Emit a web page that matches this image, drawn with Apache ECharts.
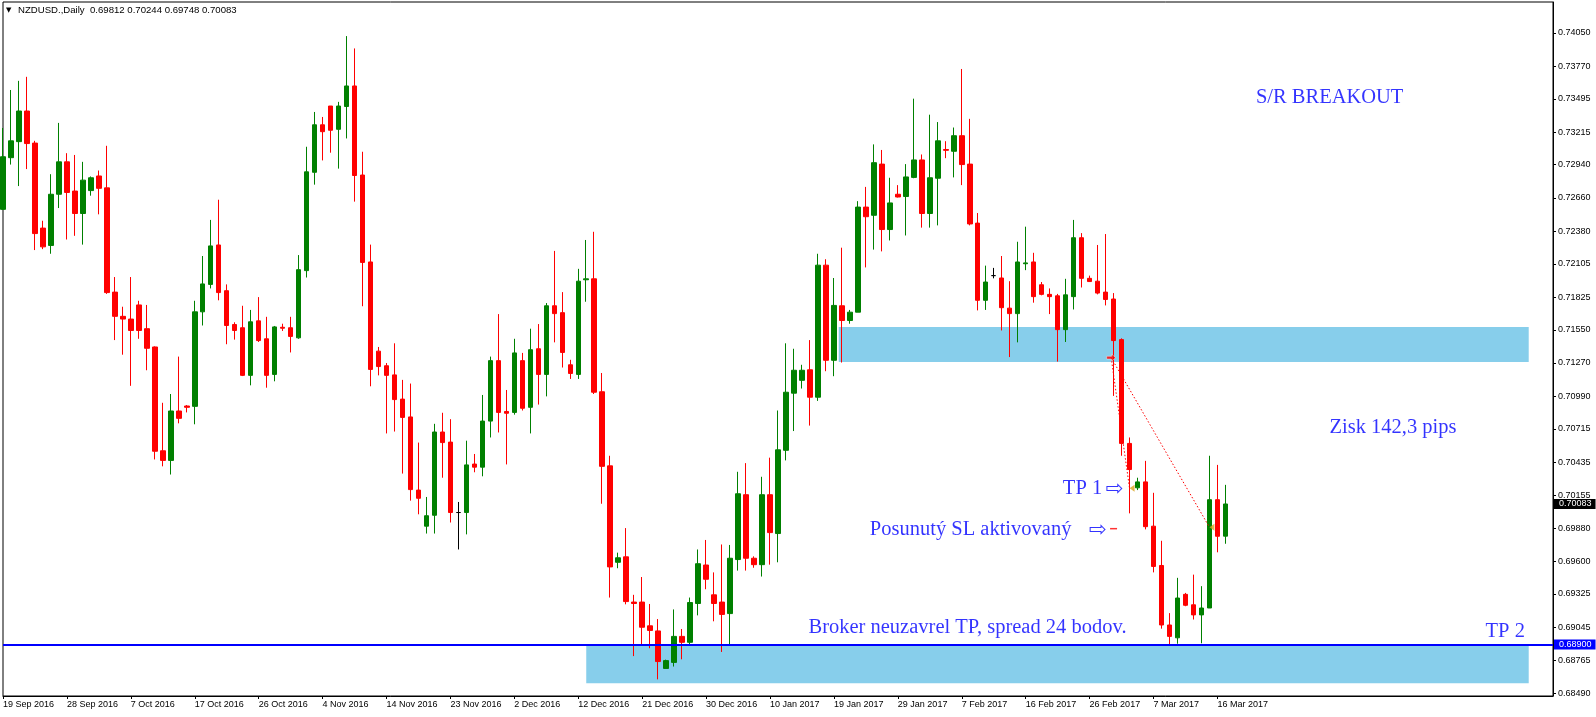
<!DOCTYPE html>
<html><head><meta charset="utf-8">
<script src="https://cdn.jsdelivr.net/npm/echarts@6/dist/echarts.min.js"></script>
<style>html,body{margin:0;padding:0;background:#fff;}#c{width:1596px;height:717px;}</style>
</head><body><div id="c"></div>
<script>
const dates = ['19 Sep 2016','20 Sep 2016','21 Sep 2016','22 Sep 2016','23 Sep 2016',
'25 Sep 2016','26 Sep 2016','27 Sep 2016','28 Sep 2016','29 Sep 2016','30 Sep 2016',
'2 Oct 2016','3 Oct 2016','4 Oct 2016','5 Oct 2016','6 Oct 2016','7 Oct 2016',
'9 Oct 2016','10 Oct 2016','11 Oct 2016','12 Oct 2016','13 Oct 2016','14 Oct 2016',
'16 Oct 2016','17 Oct 2016','18 Oct 2016','19 Oct 2016','20 Oct 2016','21 Oct 2016',
'23 Oct 2016','24 Oct 2016','25 Oct 2016','26 Oct 2016','27 Oct 2016','28 Oct 2016',
'30 Oct 2016','31 Oct 2016','1 Nov 2016','2 Nov 2016','3 Nov 2016','4 Nov 2016',
'6 Nov 2016','7 Nov 2016','8 Nov 2016','9 Nov 2016','10 Nov 2016','11 Nov 2016',
'13 Nov 2016','14 Nov 2016','15 Nov 2016','16 Nov 2016','17 Nov 2016','18 Nov 2016',
'20 Nov 2016','21 Nov 2016','22 Nov 2016','23 Nov 2016','24 Nov 2016','25 Nov 2016',
'27 Nov 2016','28 Nov 2016','29 Nov 2016','30 Nov 2016','1 Dec 2016','2 Dec 2016',
'4 Dec 2016','5 Dec 2016','6 Dec 2016','7 Dec 2016','8 Dec 2016','9 Dec 2016',
'11 Dec 2016','12 Dec 2016','13 Dec 2016','14 Dec 2016','15 Dec 2016','16 Dec 2016',
'18 Dec 2016','19 Dec 2016','20 Dec 2016','21 Dec 2016','22 Dec 2016','23 Dec 2016',
'25 Dec 2016','26 Dec 2016','27 Dec 2016','28 Dec 2016','29 Dec 2016','30 Dec 2016',
'2 Jan 2017','3 Jan 2017','4 Jan 2017','5 Jan 2017','6 Jan 2017',
'8 Jan 2017','9 Jan 2017','10 Jan 2017','11 Jan 2017','12 Jan 2017','13 Jan 2017',
'15 Jan 2017','16 Jan 2017','17 Jan 2017','18 Jan 2017','19 Jan 2017','20 Jan 2017',
'22 Jan 2017','23 Jan 2017','24 Jan 2017','25 Jan 2017','26 Jan 2017','27 Jan 2017',
'29 Jan 2017','30 Jan 2017','31 Jan 2017','1 Feb 2017','2 Feb 2017','3 Feb 2017',
'5 Feb 2017','6 Feb 2017','7 Feb 2017','8 Feb 2017','9 Feb 2017','10 Feb 2017',
'12 Feb 2017','13 Feb 2017','14 Feb 2017','15 Feb 2017','16 Feb 2017','17 Feb 2017',
'19 Feb 2017','20 Feb 2017','21 Feb 2017','22 Feb 2017','23 Feb 2017','24 Feb 2017',
'26 Feb 2017','27 Feb 2017','28 Feb 2017','1 Mar 2017','2 Mar 2017','3 Mar 2017',
'5 Mar 2017','6 Mar 2017','7 Mar 2017','8 Mar 2017','9 Mar 2017','10 Mar 2017',
'12 Mar 2017','13 Mar 2017','14 Mar 2017','15 Mar 2017','16 Mar 2017','17 Mar 2017'];

const opens = [0.72564,0.72999,0.73134,0.73392,0.73122,0.72406,0.72260,0.72691,0.72964,0.72718,
0.72529,0.72722,0.72845,0.72745,0.71867,0.71663,0.71640,0.71759,0.71559,0.71405,
0.70531,0.70450,0.70866,0.70908,0.70905,0.71701,0.71932,0.72264,0.71879,0.71594,
0.71567,0.71166,0.71625,0.71474,0.71174,0.71571,0.71567,0.71482,0.72048,0.72876,
0.73276,0.73434,0.73238,0.73430,0.73603,0.72853,0.72121,0.71370,0.71247,0.71170,
0.70966,0.70816,0.70200,0.69896,0.69988,0.70689,0.70604,0.70011,0.70011,0.70419,
0.70393,0.70781,0.71290,0.70862,0.70854,0.71290,0.70897,0.71390,0.71174,0.71752,
0.71694,0.71255,0.71174,0.71971,0.71979,0.71028,0.70404,0.69592,0.69638,0.69257,
0.69257,0.69057,0.69014,0.68698,0.68749,0.68968,0.68918,0.69245,0.69569,0.69318,
0.69257,0.69160,0.69615,0.70161,0.69626,0.69572,0.70161,0.69834,0.70535,0.71016,
0.71124,0.71213,0.70982,0.72094,0.71293,0.71752,0.71628,0.71698,0.72583,0.72514,
0.72945,0.72394,0.72691,0.72672,0.72833,0.72980,0.72529,0.72826,0.73068,0.73053,
0.73184,0.72945,0.72448,0.71798,0.72006,0.71986,0.71732,0.71686,0.72106,0.72121,
0.71929,0.71848,0.71836,0.71551,0.71829,0.72325,0.71983,0.71959,0.71867,0.71809,
0.71467,0.70593,0.70219,0.70269,0.69896,0.69565,0.69064,0.68956,0.69322,0.69234,
0.69149,0.69207,0.70119,0.69812];
const highs = [0.73249,0.73569,0.73646,0.73680,0.73141,0.72468,0.72860,0.73292,0.73037,0.73022,
0.72964,0.72841,0.72891,0.73099,0.71994,0.71744,0.71994,0.71794,0.71759,0.71410,
0.70935,0.71009,0.71324,0.70916,0.71794,0.72171,0.72475,0.72645,0.71932,0.71613,
0.71752,0.71717,0.71825,0.71659,0.71582,0.71601,0.71659,0.72179,0.73091,0.73384,
0.73342,0.73434,0.73469,0.74023,0.73919,0.73049,0.72267,0.71405,0.71270,0.71436,
0.71128,0.71097,0.70600,0.70142,0.70758,0.70851,0.70797,0.70100,0.70616,0.70504,
0.71001,0.71324,0.71682,0.71043,0.71474,0.71355,0.71559,0.71598,0.71775,0.72214,
0.71867,0.71297,0.72063,0.72306,0.72375,0.71186,0.70489,0.69673,0.69880,0.69318,
0.69468,0.69241,0.69114,0.68772,0.69195,0.69030,0.69295,0.69700,0.69780,0.69507,
0.69742,0.69738,0.70354,0.70427,0.69642,0.70312,0.70473,0.70870,0.71436,0.71390,
0.71255,0.71463,0.72190,0.72144,0.71986,0.72241,0.71717,0.72633,0.72753,0.73111,
0.73064,0.72830,0.72768,0.72945,0.73496,0.73026,0.73361,0.73299,0.73138,0.73253,
0.73746,0.73326,0.72533,0.72090,0.72071,0.72171,0.71959,0.72291,0.72418,0.72198,
0.71952,0.71898,0.71852,0.71979,0.72475,0.72364,0.72006,0.72264,0.72356,0.71859,
0.71478,0.70643,0.70304,0.70446,0.70177,0.69773,0.69164,0.69461,0.69334,0.69488,
0.69391,0.70489,0.70412,0.70244];
const lows = [0.72560,0.72941,0.72760,0.72903,0.72221,0.72229,0.72190,0.72575,0.72310,0.72341,
0.72267,0.72679,0.72522,0.71852,0.71463,0.71340,0.71078,0.71474,0.71209,0.70458,
0.70400,0.70331,0.70762,0.70854,0.70754,0.71586,0.71898,0.71798,0.71428,0.71467,
0.71160,0.71082,0.71447,0.71062,0.71116,0.71540,0.71359,0.71474,0.71990,0.72772,
0.72976,0.73041,0.72907,0.73161,0.72629,0.71748,0.71074,0.71166,0.70677,0.70693,
0.70339,0.70111,0.69996,0.69834,0.69834,0.70304,0.69927,0.69700,0.69827,0.70350,
0.70316,0.70643,0.70685,0.70416,0.70835,0.70870,0.70677,0.70920,0.70989,0.71444,
0.71232,0.71136,0.71136,0.71786,0.71009,0.70085,0.69295,0.69542,0.69238,0.68802,
0.68891,0.68868,0.68606,0.68698,0.68714,0.68775,0.68899,0.69145,0.69365,0.69095,
0.68837,0.68887,0.69522,0.69522,0.69546,0.69472,0.69572,0.69592,0.70450,0.70697,
0.71055,0.70743,0.70951,0.71201,0.71159,0.71274,0.71601,0.71698,0.72075,0.72225,
0.72210,0.72302,0.72664,0.72344,0.72826,0.72410,0.72410,0.72429,0.72995,0.72833,
0.72768,0.72429,0.71713,0.71717,0.71983,0.71544,0.71320,0.71444,0.72052,0.71778,
0.71840,0.71682,0.71282,0.71447,0.71721,0.71906,0.71952,0.71848,0.71755,0.70993,
0.70489,0.70004,0.70200,0.69869,0.69507,0.69033,0.68902,0.68906,0.69222,0.69110,
0.68910,0.69207,0.69676,0.69748];
const closes = [0.73007,0.73141,0.73392,0.73118,0.72360,0.72248,0.72691,0.72964,0.72706,0.72529,
0.72810,0.72830,0.72741,0.71863,0.71663,0.71640,0.71544,0.71544,0.71394,0.70527,
0.70450,0.70866,0.70804,0.70897,0.71701,0.71936,0.72256,0.71863,0.71586,0.71544,
0.71166,0.71617,0.71459,0.71166,0.71574,0.71563,0.71494,0.72056,0.72880,0.73276,
0.73218,0.73230,0.73434,0.73603,0.72849,0.72117,0.71216,0.71240,0.71166,0.70962,
0.70812,0.70204,0.70131,0.69984,0.70689,0.70600,0.70011,0.70011,0.70412,0.70393,
0.70781,0.71290,0.70854,0.70847,0.71355,0.70889,0.71382,0.71174,0.71752,0.71686,
0.71359,0.71182,0.71959,0.71979,0.71024,0.70400,0.69553,0.69630,0.69261,0.69245,
0.69045,0.69018,0.68756,0.68764,0.68968,0.68918,0.69253,0.69580,0.69449,0.69245,
0.69153,0.69626,0.70169,0.69626,0.69572,0.70161,0.69842,0.70539,0.71024,0.71209,
0.71209,0.70982,0.72094,0.71293,0.71755,0.71628,0.71698,0.72583,0.72502,0.72957,
0.72394,0.72618,0.72668,0.72837,0.72980,0.72529,0.72830,0.73141,0.73061,0.73184,
0.72941,0.72441,0.71798,0.71952,0.72006,0.71736,0.71686,0.72121,0.72113,0.71829,
0.71848,0.71829,0.71551,0.71844,0.72325,0.71983,0.71956,0.71859,0.71805,0.71459,
0.70593,0.70373,0.70269,0.69892,0.69557,0.69064,0.68968,0.69291,0.69230,0.69149,
0.69207,0.70119,0.69811,0.70083];

const yTicks = [0.68490,0.68765,0.69045,0.69325,0.69600,0.69880,0.70155,0.70435,0.70715,0.70990,
0.71270,0.71550,0.71825,0.72105,0.72380,0.72660,0.72940,0.73215,0.73495,0.73770,0.74050];

const symbolName = 'NZDUSD.,Daily';
const tpLevel = 0.68900;
// zones: [barFrom, priceTop, barTo, priceBottom]
const zones = [[104.6, 0.71574, 190.96, 0.71278], [73.0, 0.68900, 190.96, 0.68573]];
const tradeEntry = [138.7, 0.71315];
const tradeCloses = [[141, 0.70215], [151, 0.69887]];
const slMark = [139, 0.69875];
const noteTexts = ['S/R BREAKOUT', 'Zisk 142,3 pips', 'TP 1', 'Posunutý SL aktivovaný', 'Broker neuzavrel TP, spread 24 bodov.', 'TP 2'];
const noteBars = [156.75, 165.96, 132.59, 108.43, 100.75, 185.5];
const notePrices = [0.73522, 0.70750, 0.70235, 0.69889, 0.69064, 0.69032];
const arrowBars = [137.93, 135.84];
const arrowPrices = [0.70211, 0.69864];

const N = 195;
const cats = dates.slice();
for (let i = dates.length; i < N; i++) cats.push('_' + i);

const candleData = dates.map((d, i) => {
  const item = { value: [opens[i], closes[i], lows[i], highs[i]] };
  if (opens[i] === closes[i]) {
    item.itemStyle = { color: '#000', color0: '#000', borderColor: '#000', borderColor0: '#000' };
  }
  return item;
});

const last = dates.length - 1;
const titleText = '{a|▼}{b|' + symbolName + '  ' +
  [opens[last], highs[last], lows[last], closes[last]].map(v => v.toFixed(5)).join(' ') + '}';

const chart = echarts.init(document.getElementById('c'), null, { renderer: 'canvas' });
const blue = '#0000ff';
const priceBox = { show: true, position: 'end', distance: 1, color: '#fff', fontSize: 9, fontFamily: 'Liberation Sans', padding: [1, 4, 0, 5], lineHeight: 9 };
chart.setOption({
  animation: false,
  backgroundColor: '#fff',
  title: {
    left: 6, top: 5, padding: 0,
    text: titleText,
    textStyle: {
      fontWeight: 'normal',
      rich: {
        a: { fontSize: 7, width: 12, color: '#000', fontFamily: 'DejaVu Sans', fontWeight: 'normal' },
        b: { fontSize: 9.6, color: '#000', fontFamily: 'Liberation Sans', fontWeight: 'normal' }
      }
    }
  },
  grid: { left: 2, right: 43, top: 2, bottom: 21, show: true, borderColor: '#000', borderWidth: 1, backgroundColor: 'transparent' },
  xAxis: [{
    type: 'category', data: cats, boundaryGap: false,
    axisLine: { onZero: false, lineStyle: { color: '#000', width: 1 } },
    axisTick: { show: true, length: 3, interval: (i) => i % 8 === 0 && i < dates.length, lineStyle: { color: '#000' } },
    axisLabel: {
      interval: (i) => i % 8 === 0 && i < dates.length,
      formatter: (v, i) => i < dates.length ? v : '',
      align: 'left', margin: 4, fontSize: 9, color: '#000', fontFamily: 'Liberation Sans'
    },
    splitLine: { show: false }
  }, {
    type: 'value', min: 0, max: N - 1, show: false,
    axisLine: { onZero: false }, splitLine: { show: false }
  }],
  yAxis: [{
    type: 'value', position: 'right', min: 0.68466, max: 0.74310, scale: true,
    splitLine: { show: false },
    axisLine: { show: true, onZero: false, lineStyle: { color: '#000', width: 1 } },
    axisTick: { show: true, length: 3, customValues: yTicks, lineStyle: { color: '#000' } },
    axisLabel: { customValues: yTicks, formatter: v => v.toFixed(5), color: '#000', fontSize: 9, fontFamily: 'Liberation Sans', margin: 5, align: 'left' }
  }],
  series: [
    {
      type: 'line', xAxisIndex: 1, yAxisIndex: 0, data: [], z: 1, silent: true,
      markArea: {
        silent: true,
        itemStyle: { color: '#87CEEB', opacity: 1 },
        data: zones.map(z => [{ coord: [z[0], z[1]] }, { coord: [z[2], z[3]] }])
      }
    },
    {
      type: 'candlestick', xAxisIndex: 0, yAxisIndex: 0, z: 3, barWidth: 5, silent: true,
      itemStyle: { color: '#008000', color0: '#ff0000', borderColor: '#008000', borderColor0: '#ff0000', borderWidth: 1 },
      data: candleData
    },
    {
      type: 'line', xAxisIndex: 1, yAxisIndex: 0, data: [], z: 5, silent: true,
      markLine: {
        silent: true, symbol: 'none', animation: false, precision: 5,
        data: [
          { yAxis: tpLevel, lineStyle: { color: blue, width: 2, type: 'solid' },
            label: Object.assign({}, priceBox, { formatter: tpLevel.toFixed(5), backgroundColor: blue }) },
          { yAxis: closes[last], lineStyle: { color: 'rgba(0,0,0,0)', width: 1 },
            label: Object.assign({}, priceBox, { formatter: closes[last].toFixed(5), backgroundColor: '#000' }) }
        ]
      }
    },
    ...tradeCloses.map(c => ({
      type: 'line', xAxisIndex: 1, yAxisIndex: 0, z: 4, silent: true, symbol: 'none',
      lineStyle: { color: '#ff0000', width: 1, type: [1.5, 2] },
      data: [tradeEntry, c]
    })),
    {
      type: 'scatter', xAxisIndex: 1, yAxisIndex: 0, z: 6, silent: true,
      data: [
        { value: tradeEntry, symbol: 'path://M0,3 L6,3 L6,0 L11,5 L6,10 L6,7 L0,7 Z', symbolSize: [9, 7], itemStyle: { color: '#ff0000', borderColor: '#fff', borderWidth: 0.5 } },
        ...tradeCloses.map(c => ({ value: c, symbol: 'path://M0,5 L6,0 L6,10 Z', symbolSize: [5, 7], symbolOffset: [2.5, 0], itemStyle: { color: '#DAA520' } })),
        { value: slMark, symbol: 'rect', symbolSize: [7, 1.5], itemStyle: { color: '#ff0000' } }
      ]
    },
    {
      type: 'scatter', xAxisIndex: 1, yAxisIndex: 0, z: 7, silent: true, symbolSize: 1,
      itemStyle: { color: 'rgba(0,0,0,0)' },
      label: { show: true, position: 'right', distance: 0, offset: [0, 2.5], color: blue, fontFamily: 'Liberation Serif', fontSize: 20.5, formatter: p => noteTexts[p.dataIndex] },
      data: noteBars.map((b, i) => [b, notePrices[i]])
    },
    {
      type: 'scatter', xAxisIndex: 1, yAxisIndex: 0, z: 7, silent: true, symbolSize: 1,
      itemStyle: { color: 'rgba(0,0,0,0)' },
      label: { show: true, position: 'right', distance: 0, offset: [0, 0.5], color: blue, fontFamily: 'DejaVu Sans', fontSize: 21, formatter: '⇨' },
      data: arrowBars.map((b, i) => [b, arrowPrices[i]])
    }
  ]
});
</script>
</body></html>
